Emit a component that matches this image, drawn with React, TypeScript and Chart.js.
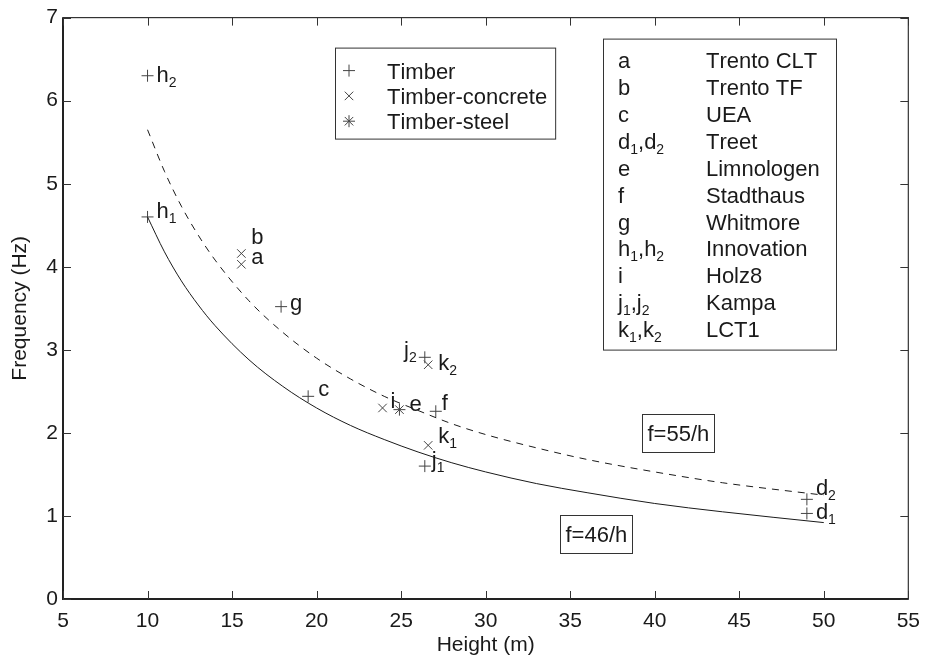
import React, { useEffect, useRef } from 'react';
import { Chart, registerables } from 'chart.js';

Chart.register(...registerables);

// ---------- data ----------
const xTickValues = [5, 10, 15, 20, 25, 30, 35, 40, 45, 50, 55];
const yTickValues = [0, 1, 2, 3, 4, 5, 6, 7];

// Timber (+)
const timberHeight = [10, 10, 17.9, 19.5, 27.05, 26.4, 26.4, 49, 49];
const timberFreq = [6.3, 4.6, 3.52, 2.44, 2.26, 2.91, 1.6, 1.2, 1.03];
const timberLabel = ['h_2', 'h_1', 'g', 'c', 'f', 'j_2', 'j_1', 'd_2', 'd_1'];

// Timber-concrete (x)
const concreteHeight = [15.55, 15.55, 23.9, 26.6, 26.6];
const concreteFreq = [4.16, 4.03, 2.3, 2.82, 1.85];
const concreteLabel = ['b', 'a', 'i', 'k_2', 'k_1'];

// Timber-steel (*)
const steelHeight = [24.9];
const steelFreq = [2.28];
const steelLabel = ['e'];

// fitted curves
const curveHeight = [10, 11, 12, 13, 14, 16, 18, 20, 22, 24, 26, 28, 30, 33, 36, 40, 44, 50];
const fitLower = [4.6, 4.18, 3.83, 3.54, 3.29, 2.88, 2.56, 2.3, 2.09, 1.92, 1.77, 1.64, 1.53, 1.39, 1.28, 1.15, 1.05, 0.92];
const fitUpper = [5.65, 5.15, 4.73, 4.38, 4.08, 3.59, 3.21, 2.9, 2.65, 2.44, 2.27, 2.11, 1.98, 1.82, 1.68, 1.53, 1.4, 1.25];

const seriesNames = ['Timber', 'Timber-concrete', 'Timber-steel'];
const legendKeys = ['a', 'b', 'c', 'd_1,d_2', 'e', 'f', 'g', 'h_1,h_2', 'i', 'j_1,j_2', 'k_1,k_2'];
const legendNames = ['Trento CLT', 'Trento TF', 'UEA', 'Treet', 'Limnologen', 'Stadthaus', 'Whitmore', 'Innovation', 'Holz8', 'Kampa', 'LCT1'];

const fitTexts = ['f=55/h', 'f=46/h'];
const fitTextHeight = [41.35, 36.55];
const fitTextFreq = [2.0, 0.78];

// ---------- styles ----------
const FONT = '"Liberation Sans", Arial, Helvetica, sans-serif';
const TEXT = '#1a1a1a';
const MARK = '#444444';
const LINE = '#1a1a1a';
const FS = 22;
const SUB_FS = 14;
const AXIS_FS = 21;

const LABEL_OFFSETS: Record<string, [number, number, 'left' | 'right']> = {
  h_2: [9, 6, 'left'],
  h_1: [9, 1, 'left'],
  g: [9, 3, 'left'],
  c: [10, 0, 'left'],
  f: [6, -1, 'left'],
  j_2: [-8, 0, 'right'],
  j_1: [7, 1, 'left'],
  d_2: [9, -4, 'left'],
  d_1: [9, 6, 'left'],
  b: [10, -9, 'left'],
  a: [10, 0, 'left'],
  i: [8, 0, 'left'],
  k_2: [10, 5, 'left'],
  k_1: [10, -2, 'left'],
  e: [10, 1, 'left'],
};

type Seg = { t: string; sub: boolean };
function parseRich(s: string): Seg[] {
  const out: Seg[] = [];
  for (let i = 0; i < s.length; i++) {
    if (s[i] === '_' && i + 1 < s.length) {
      out.push({ t: s[i + 1], sub: true });
      i++;
    } else {
      out.push({ t: s[i], sub: false });
    }
  }
  return out;
}

function richWidth(ctx: CanvasRenderingContext2D, s: string) {
  let w = 0;
  for (const seg of parseRich(s)) {
    ctx.font = `${seg.sub ? SUB_FS : FS}px ${FONT}`;
    w += ctx.measureText(seg.t).width;
  }
  return w;
}

function drawRich(ctx: CanvasRenderingContext2D, s: string, x: number, y: number, align: 'left' | 'right' = 'left') {
  const w = richWidth(ctx, s);
  let cx = align === 'right' ? x - w : x;
  ctx.save();
  ctx.fillStyle = TEXT;
  ctx.textBaseline = 'alphabetic';
  ctx.textAlign = 'left';
  for (const seg of parseRich(s)) {
    ctx.font = `${seg.sub ? SUB_FS : FS}px ${FONT}`;
    ctx.fillText(seg.t, cx, y + (seg.sub ? 5 : 0));
    cx += ctx.measureText(seg.t).width;
  }
  ctx.restore();
}

function drawMarker(ctx: CanvasRenderingContext2D, kind: number, x: number, y: number, r: number) {
  ctx.save();
  ctx.strokeStyle = MARK;
  ctx.lineWidth = 1;
  ctx.beginPath();
  const d = r * Math.SQRT1_2;
  if (kind === 0 || kind === 2) {
    ctx.moveTo(x - r, y);
    ctx.lineTo(x + r, y);
    ctx.moveTo(x, y - r);
    ctx.lineTo(x, y + r);
  }
  if (kind === 1 || kind === 2) {
    ctx.moveTo(x - d, y - d);
    ctx.lineTo(x + d, y + d);
    ctx.moveTo(x - d, y + d);
    ctx.lineTo(x + d, y - d);
  }
  ctx.stroke();
  ctx.restore();
}

const overlayPlugin = {
  id: 'overlay',
  afterDatasetsDraw(chart: any) {
    const ctx: CanvasRenderingContext2D = chart.ctx;
    const ca = chart.chartArea;
    const xs = chart.scales.x;
    const ys = chart.scales.y;

    // frame
    ctx.save();
    ctx.strokeStyle = '#333';
    ctx.lineWidth = 1.2;
    ctx.strokeRect(ca.left, ca.top, ca.right - ca.left, ca.bottom - ca.top);
    ctx.strokeStyle = '#222';
    ctx.lineWidth = 2;
    ctx.beginPath();
    ctx.moveTo(ca.left, ca.top);
    ctx.lineTo(ca.left, ca.bottom);
    ctx.lineTo(ca.right, ca.bottom);
    ctx.stroke();

    // inward ticks
    const TL = 8;
    ctx.lineWidth = 1;
    ctx.strokeStyle = '#333';
    ctx.beginPath();
    for (const t of xs.ticks) {
      const px = Math.round(xs.getPixelForValue(t.value)) + 0.5;
      ctx.moveTo(px, ca.bottom);
      ctx.lineTo(px, ca.bottom - TL);
      ctx.moveTo(px, ca.top);
      ctx.lineTo(px, ca.top + TL);
    }
    for (const t of ys.ticks) {
      const py = Math.round(ys.getPixelForValue(t.value)) + 0.5;
      ctx.moveTo(ca.left, py);
      ctx.lineTo(ca.left + TL, py);
      ctx.moveTo(ca.right, py);
      ctx.lineTo(ca.right - TL, py);
    }
    ctx.stroke();
    ctx.restore();

    // point labels
    const labelSets = [timberLabel, concreteLabel, steelLabel];
    labelSets.forEach((labels, di) => {
      const meta = chart.getDatasetMeta(di + 2);
      labels.forEach((lab, j) => {
        const el = meta.data[j];
        if (!el) return;
        const off = LABEL_OFFSETS[lab] || [9, 0, 'left'];
        drawRich(ctx, lab, el.x + off[0], el.y + off[1], off[2]);
      });
    });

    // series legend
    {
      const left = ca.left + 272;
      const top = ca.top + 30;
      const rowH = 25.3;
      let maxW = 0;
      seriesNames.forEach((n) => (maxW = Math.max(maxW, richWidth(ctx, n))));
      const textX = left + 52;
      const w = textX - left + maxW + 8;
      const h = 91;
      ctx.save();
      ctx.fillStyle = '#fff';
      ctx.fillRect(left, top, w, h);
      ctx.strokeStyle = '#333';
      ctx.lineWidth = 1;
      ctx.strokeRect(left + 0.5, top + 0.5, w, h);
      ctx.restore();
      seriesNames.forEach((n, i) => {
        const cy = top + 23 + rowH * i;
        drawMarker(ctx, i, left + 14, cy, 6);
        drawRich(ctx, n, textX, cy + 8);
      });
    }

    // building legend
    {
      const left = ca.left + 540;
      const top = ca.top + 21;
      const w = 233;
      const h = 311;
      const rowH = 26.9;
      ctx.save();
      ctx.fillStyle = '#fff';
      ctx.fillRect(left, top, w, h);
      ctx.strokeStyle = '#333';
      ctx.lineWidth = 1;
      ctx.strokeRect(left + 0.5, top + 0.5, w, h);
      ctx.restore();
      legendKeys.forEach((k, i) => {
        const by = top + 29.5 + rowH * i;
        drawRich(ctx, k, left + 15, by);
        drawRich(ctx, legendNames[i], left + 103, by);
      });
    }

    // fit annotations
    fitTexts.forEach((t, i) => {
      const cx = xs.getPixelForValue(fitTextHeight[i]);
      const cy = ys.getPixelForValue(fitTextFreq[i]);
      const tw = richWidth(ctx, t);
      const bw = Math.round(tw + 10);
      const bh = 38;
      const bx = Math.round(cx - bw / 2) + 0.5;
      const by = Math.round(cy - bh / 2) + 0.5;
      ctx.save();
      ctx.fillStyle = '#fff';
      ctx.fillRect(bx, by, bw, bh);
      ctx.strokeStyle = '#333';
      ctx.lineWidth = 1;
      ctx.strokeRect(bx, by, bw, bh);
      ctx.restore();
      drawRich(ctx, t, bx + 5, cy + 8);
    });
  },
};

function toXY(xs: number[], ys: number[]) {
  return xs.map((x, i) => ({ x, y: ys[i] }));
}

export default function App() {
  const ref = useRef<HTMLCanvasElement | null>(null);

  useEffect(() => {
    document.body.style.margin = '0';
    const canvas = ref.current;
    if (!canvas) return;
    Chart.defaults.font.family = FONT;

    const chart = new Chart(canvas, {
      type: 'scatter',
      data: {
        datasets: [
          {
            type: 'line',
            label: 'f=55/h',
            data: toXY(curveHeight, fitUpper),
            borderColor: LINE,
            borderWidth: 1,
            borderDash: [7, 6],
            pointRadius: 0,
            fill: false,
            cubicInterpolationMode: 'monotone',
          },
          {
            type: 'line',
            label: 'f=46/h',
            data: toXY(curveHeight, fitLower),
            borderColor: LINE,
            borderWidth: 1,
            pointRadius: 0,
            fill: false,
            cubicInterpolationMode: 'monotone',
          },
          {
            label: seriesNames[0],
            data: toXY(timberHeight, timberFreq),
            pointStyle: 'cross',
            pointRadius: 6,
            borderColor: MARK,
            backgroundColor: MARK,
            borderWidth: 1,
          },
          {
            label: seriesNames[1],
            data: toXY(concreteHeight, concreteFreq),
            pointStyle: 'crossRot',
            pointRadius: 6,
            borderColor: MARK,
            backgroundColor: MARK,
            borderWidth: 1,
          },
          {
            label: seriesNames[2],
            data: toXY(steelHeight, steelFreq),
            pointStyle: 'star',
            pointRadius: 6,
            borderColor: MARK,
            backgroundColor: MARK,
            borderWidth: 1,
          },
        ],
      } as any,
      options: {
        responsive: false,
        animation: false,
        devicePixelRatio: 1,
        layout: { padding: { top: 16, right: 12, left: 0, bottom: 0 } },
        plugins: {
          legend: { display: false },
          tooltip: { enabled: false },
        },
        scales: {
          x: {
            type: 'linear',
            min: xTickValues[0],
            max: xTickValues[xTickValues.length - 1],
            afterBuildTicks: (s: any) => {
              s.ticks = xTickValues.map((v) => ({ value: v }));
            },
            ticks: { font: { size: AXIS_FS, family: FONT }, color: TEXT, padding: 10, maxRotation: 0, autoSkip: false },
            grid: { display: false, drawTicks: false },
            border: { display: false },
            title: { display: true, text: 'Height (m)', font: { size: AXIS_FS, family: FONT }, color: TEXT, padding: { top: 0, bottom: 4 } },
            afterFit: (s: any) => {
              s.height = 63;
            },
          },
          y: {
            type: 'linear',
            min: yTickValues[0],
            max: yTickValues[yTickValues.length - 1],
            afterBuildTicks: (s: any) => {
              s.ticks = yTickValues.map((v) => ({ value: v }));
            },
            ticks: { font: { size: AXIS_FS, family: FONT }, color: TEXT, padding: 5, autoSkip: false },
            grid: { display: false, drawTicks: false },
            border: { display: false },
            title: { display: true, text: 'Frequency (Hz)', font: { size: AXIS_FS, family: FONT }, color: TEXT, padding: { top: 8, bottom: 0 } },
            afterFit: (s: any) => {
              s.width = 63;
            },
          },
        },
      } as any,
      plugins: [overlayPlugin],
    });
    return () => chart.destroy();
  }, []);

  return (
    <div style={{ width: 930, height: 662, background: '#fff' }}>
      <canvas ref={ref} width={930} height={662} style={{ display: 'block', width: 930, height: 662 }} />
    </div>
  );
}
